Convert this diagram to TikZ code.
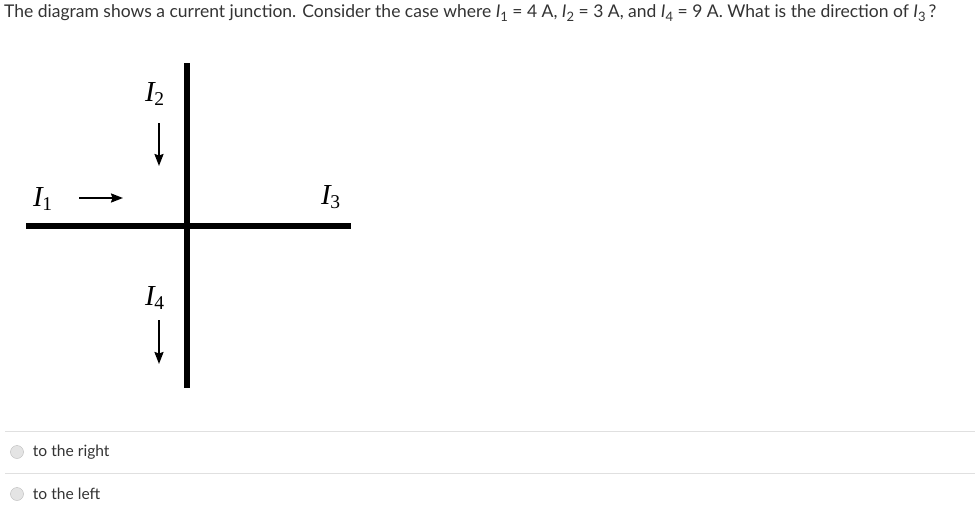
\documentclass[tikz,border=0pt]{standalone}
\usepackage{fontspec}
\setmainfont{Lato}
\newfontfamily\labfont{Liberation Serif}
\usetikzlibrary{arrows.meta,positioning}

\definecolor{qtext}{HTML}{333333}
\definecolor{rule}{HTML}{E0E0E0}
\definecolor{radioborder}{HTML}{B8B8B8}
\definecolor{radiofill}{HTML}{E4E4E4}

% current label in the figure
\newcommand{\curr}[1]{{\labfont\itshape I\kern-0.5pt}{\labfont\raisebox{-4pt}{\fontsize{19.5}{19.5}\selectfont #1}}}
% current label in the question
\newcommand{\qcurr}[1]{{\itshape I}\raisebox{-3.5pt}{\fontsize{13}{13}\selectfont #1}}

\begin{document}
\begin{tikzpicture}[x=1pt, y=-1pt,
    wire/.style={line width=5.5pt, black},
    flow/.style={-{Stealth[length=12pt,width=9pt,inset=1.5pt]}, line width=2pt, black},
    curlabel/.style={anchor=base west, inner sep=0pt, font=\fontsize{29}{29}\selectfont},
    question/.style={anchor=west, inner sep=0pt, text=qtext, font=\fontsize{17.5}{19}\selectfont},
    choice/.style={anchor=west, inner sep=0pt, text=qtext, font=\fontsize{15.6}{17}\selectfont},
    radio/.style={circle, draw=radioborder, fill=radiofill, minimum size=13pt, inner sep=0pt},
    sep/.style={draw=rule, line width=1pt}
]
    \useasboundingbox (0,0) rectangle (975,506);

    % Domanda
    \node[question] (q) at (4,13) {The diagram shows a current junction. Consider the case where \qcurr{1} = 4 A, \qcurr{2} = 3 A, and \qcurr{4} = 9 A. What is the direction of \qcurr{3}\,?};

    % Giunzione
    \coordinate (j) at (187,226);
    \coordinate (west) at (26,226);
    \coordinate (east) at (351,226);
    \coordinate (north) at (187,63);
    \coordinate (south) at (187,388);
    \draw[wire] (west) -- (east);
    \draw[wire] (north) -- (south);

    % Correnti
    \node[curlabel] (i1) at (33,206) {\curr{1}};
    \node[curlabel] (i2) at (145,101) {\curr{2}};
    \node[curlabel] (i3) at (321,204) {\curr{3}};
    \node[curlabel] (i4) at (145,305) {\curr{4}};

    \coordinate (a1s) at (79,198);
    \coordinate (a1e) at (123,198);
    \coordinate (a2s) at (159,123);
    \coordinate (a2e) at (159,166);
    \coordinate (a4s) at (159,320);
    \coordinate (a4e) at (159,364);
    \draw[flow] (a1s) -- (a1e);
    \draw[flow] (a2s) -- (a2e);
    \draw[flow] (a4s) -- (a4e);

    % Risposte
    \coordinate (s1w) at (5,431);
    \coordinate (s1e) at (975,431);
    \coordinate (s2w) at (5,473);
    \coordinate (s2e) at (975,473);
    \draw[sep] (s1w) -- (s1e);
    \draw[sep] (s2w) -- (s2e);

    \node[radio] (r1) at (17,452) {};
    \node[choice, right=9pt of r1] (c1) {to the right};
    \node[radio] (r2) at (17,494) {};
    \node[choice, right=9pt of r2] (c2) {to the left};
\end{tikzpicture}
\end{document}
